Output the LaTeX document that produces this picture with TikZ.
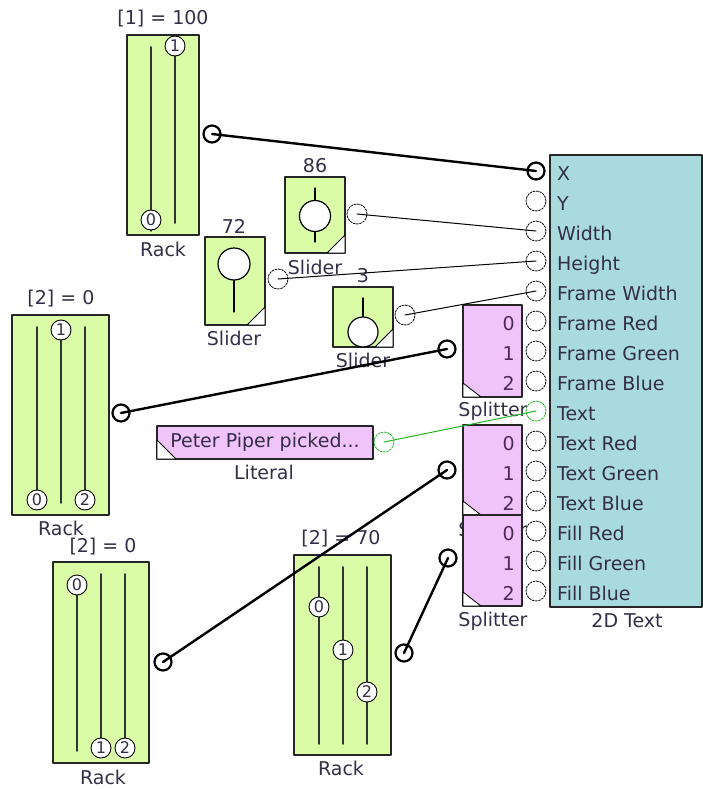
\documentclass[tikz,border=0pt]{standalone}
\usepackage{fontspec}
\setmainfont{DejaVu Sans}
\definecolor{rackgreen}{HTML}{DAFCA6}
\definecolor{splitpink}{HTML}{F0C4FA}
\definecolor{texteal}{HTML}{A8DADE}
\definecolor{labelink}{HTML}{342E48}
\definecolor{digitink}{HTML}{4E2A55}
\definecolor{wiregreen}{HTML}{22B522}
\tikzset{
  blockbox/.style={draw=black!85,line width=1.2pt},
  greenbox/.style={blockbox,fill=rackgreen},
  pinkbox/.style={blockbox,fill=splitpink},
  tealbox/.style={blockbox,fill=texteal},
  corner/.style={draw=black,fill=white,line width=0.8pt},
  caption/.style={text=labelink,inner sep=0pt,font=\fontsize{19}{22}\selectfont},
  pinname/.style={caption,anchor=base west},
  splitnum/.style={caption,text=digitink,anchor=base east},
  track/.style={draw=black!80,line width=1.6pt},
  stem/.style={draw=black,line width=1.2pt},
  sliderknob/.style={draw=black,fill=white,line width=1.2pt},
  knob/.style={circle,draw,fill=white,line width=0.9pt,minimum size=20pt,inner sep=0pt,
    text=labelink,font=\fontsize{16}{16}\selectfont},
  portbold/.style={circle,draw,fill=white,line width=2.2pt,minimum size=17pt,inner sep=0pt},
  portfree/.style={circle,draw,fill=white,line width=0.8pt,dash pattern=on 2pt off 1.3pt,
    minimum size=20pt,inner sep=0pt},
  wirebold/.style={line width=2.4pt},
  wirethin/.style={line width=1pt}
}
\begin{document}
\begin{tikzpicture}[x=1pt,y=-1pt,line cap=round,line join=round]
  \useasboundingbox (0,0) rectangle (703,789);
  % rack top
  \draw[greenbox] (127,35) rectangle (199,235);
  \draw[track] (151,47) -- (151,231);
  \draw[track] (175,47) -- (175,223);
  \node[knob] (rackAk0) at (151,220) {0};
  \node[knob] (rackAk1) at (175,46) {1};
  \node[caption] (rackAval) at (163,19) {[1] = 100};
  \node[caption] (rackAname) at (163,249) {Rack};
  \node[portbold] (rackAout) at (212,134) {};
  % slider 86
  \draw[greenbox] (285,177) rectangle (345,253);
  \draw[corner] (345,235) -- (345,253) -- (327,253) -- cycle;
  \draw[stem] (315,188) -- (315,242);
  \draw[sliderknob] (315,216) circle[radius=15.5pt];
  \node[caption] (sliderWval) at (315,166) {86};
  \node[caption] (sliderWname) at (315,267) {Slider};
  \node[portfree] (sliderWout) at (357,214) {};
  % slider 72
  \draw[greenbox] (205,237) rectangle (265,325);
  \draw[corner] (265,307) -- (265,325) -- (247,325) -- cycle;
  \draw[stem] (234,250) -- (234,312);
  \draw[sliderknob] (234,264) circle[radius=16pt];
  \node[caption] (sliderHval) at (234,226) {72};
  \node[caption] (sliderHname) at (234,338) {Slider};
  \node[portfree] (sliderHout) at (278,279) {};
  % slider 3
  \draw[greenbox] (333,287) rectangle (393,347);
  \draw[corner] (393,329) -- (393,347) -- (375,347) -- cycle;
  \draw[stem] (363,298) -- (363,320);
  \draw[sliderknob] (363,332) circle[radius=15pt];
  \node[caption] (sliderFval) at (363,276) {3};
  \node[caption] (sliderFname) at (363,360) {Slider};
  \node[portfree] (sliderFout) at (405,315) {};
  % rack middle left
  \draw[greenbox] (12,315) rectangle (109,515);
  \draw[track] (37,327) -- (37,500);
  \draw[track] (61,330) -- (61,503);
  \draw[track] (85,327) -- (85,500);
  \node[knob] (rackBk1) at (61,330) {1};
  \node[knob] (rackBk0) at (37,500) {0};
  \node[knob] (rackBk2) at (85,500) {2};
  \node[caption] (rackBval) at (61,299) {[2] = 0};
  \node[caption] (rackBname) at (61,528) {Rack};
  \node[portbold] (rackBout) at (121,413) {};
  % rack bottom left
  \draw[greenbox] (53,562) rectangle (149,763);
  \draw[track] (77,585) -- (77,751);
  \draw[track] (101,574) -- (101,748);
  \draw[track] (125,574) -- (125,748);
  \node[knob] (rackCk0) at (77,585) {0};
  \node[knob] (rackCk1) at (101,748) {1};
  \node[knob] (rackCk2) at (125,748) {2};
  \node[caption] (rackCval) at (103,547) {[2] = 0};
  \node[caption] (rackCname) at (103,777) {Rack};
  \node[portbold] (rackCout) at (163,662) {};
  % rack bottom middle
  \draw[greenbox] (294,555) rectangle (391,755);
  \draw[track] (319,567) -- (319,744);
  \draw[track] (343,567) -- (343,744);
  \draw[track] (367,567) -- (367,744);
  \node[knob] (rackDk0) at (319,607) {0};
  \node[knob] (rackDk1) at (343,650) {1};
  \node[knob] (rackDk2) at (367,692) {2};
  \node[caption] (rackDval) at (341,539) {[2] = 70};
  \node[caption] (rackDname) at (341,768) {Rack};
  \node[portbold] (rackDout) at (404,653) {};
  % literal
  \draw[pinkbox] (157,426) rectangle (373,459);
  \draw[corner] (157,440) -- (157,459) -- (176,459) -- cycle;
  \node[caption] (litText) at (265,442) {Peter Piper picked...};
  \node[caption] (litName) at (264,472) {Literal};
  \node[portfree,draw=wiregreen] (litOut) at (384,442) {};
  % splitters
  \draw[pinkbox] (463,305) rectangle (522,397);
  \draw[corner] (463,383) -- (463,397) -- (481,397) -- cycle;
  \node[splitnum] at (515,330) {0};
  \node[splitnum] at (515,360) {1};
  \node[splitnum] at (515,390) {2};
  \node[caption] (splitAname) at (493,411) {Splitter};
  \node[portbold] (splitAin) at (447,349) {};
  \node[caption] (splitBname) at (493,531) {Splitter};
  \draw[pinkbox] (463,425) rectangle (522,515);
  \draw[corner] (463,501) -- (463,515) -- (481,515) -- cycle;
  \node[splitnum] at (515,450) {0};
  \node[splitnum] at (515,480) {1};
  \node[splitnum] at (515,510) {2};
  \node[portbold] (splitBin) at (447,470) {};
  \draw[pinkbox] (463,515) rectangle (522,606);
  \draw[corner] (463,592) -- (463,606) -- (481,606) -- cycle;
  \node[splitnum] at (515,540) {0};
  \node[splitnum] at (515,570) {1};
  \node[splitnum] at (515,600) {2};
  \node[caption] (splitCname) at (493,621) {Splitter};
  \node[portbold] (splitCin) at (448,558) {};
  % 2D text
  \draw[tealbox] (550,155) rectangle (702,607);
  \node[caption] (textName) at (627,621) {2D Text};
  \node[portbold] (pX) at (536,171) {};
  \node[portfree] (pY) at (536,201) {};
  \node[portfree] (pW) at (536,231) {};
  \node[portfree] (pH) at (536,261) {};
  \node[portfree] (pFW) at (536,291) {};
  \node[portfree] (pFR) at (536,321) {};
  \node[portfree] (pFG) at (536,351) {};
  \node[portfree] (pFB) at (536,381) {};
  \node[portfree,draw=wiregreen] (pT) at (536,411) {};
  \node[portfree] (pTR) at (536,441) {};
  \node[portfree] (pTG) at (536,471) {};
  \node[portfree] (pTB) at (536,501) {};
  \node[portfree] (pLR) at (536,531) {};
  \node[portfree] (pLG) at (536,561) {};
  \node[portfree] (pLB) at (536,591) {};
  \node[pinname] at (557,180) {X};
  \node[pinname] at (557,210) {Y};
  \node[pinname] at (557,240) {Width};
  \node[pinname] at (557,270) {Height};
  \node[pinname] at (557,300) {Frame Width};
  \node[pinname] at (557,330) {Frame Red};
  \node[pinname] at (557,360) {Frame Green};
  \node[pinname] at (557,390) {Frame Blue};
  \node[pinname] at (557,420) {Text};
  \node[pinname] at (557,450) {Text Red};
  \node[pinname] at (557,480) {Text Green};
  \node[pinname] at (557,510) {Text Blue};
  \node[pinname] at (557,540) {Fill Red};
  \node[pinname] at (557,570) {Fill Green};
  \node[pinname] at (557,600) {Fill Blue};
  % wires
  \draw[wirebold] (rackAout.center) -- (pX.center);
  \draw[wirethin] (sliderWout.center) -- (pW.center);
  \draw[wirethin] (sliderHout.center) -- (pH.center);
  \draw[wirethin] (sliderFout.center) -- (pFW.center);
  \draw[wirethin,draw=wiregreen] (litOut.center) -- (pT.center);
  \draw[wirebold] (rackBout.center) -- (splitAin.center);
  \draw[wirebold] (rackCout.center) -- (splitBin.center);
  \draw[wirebold] (rackDout.center) -- (splitCin.center);
\end{tikzpicture}
\end{document}
